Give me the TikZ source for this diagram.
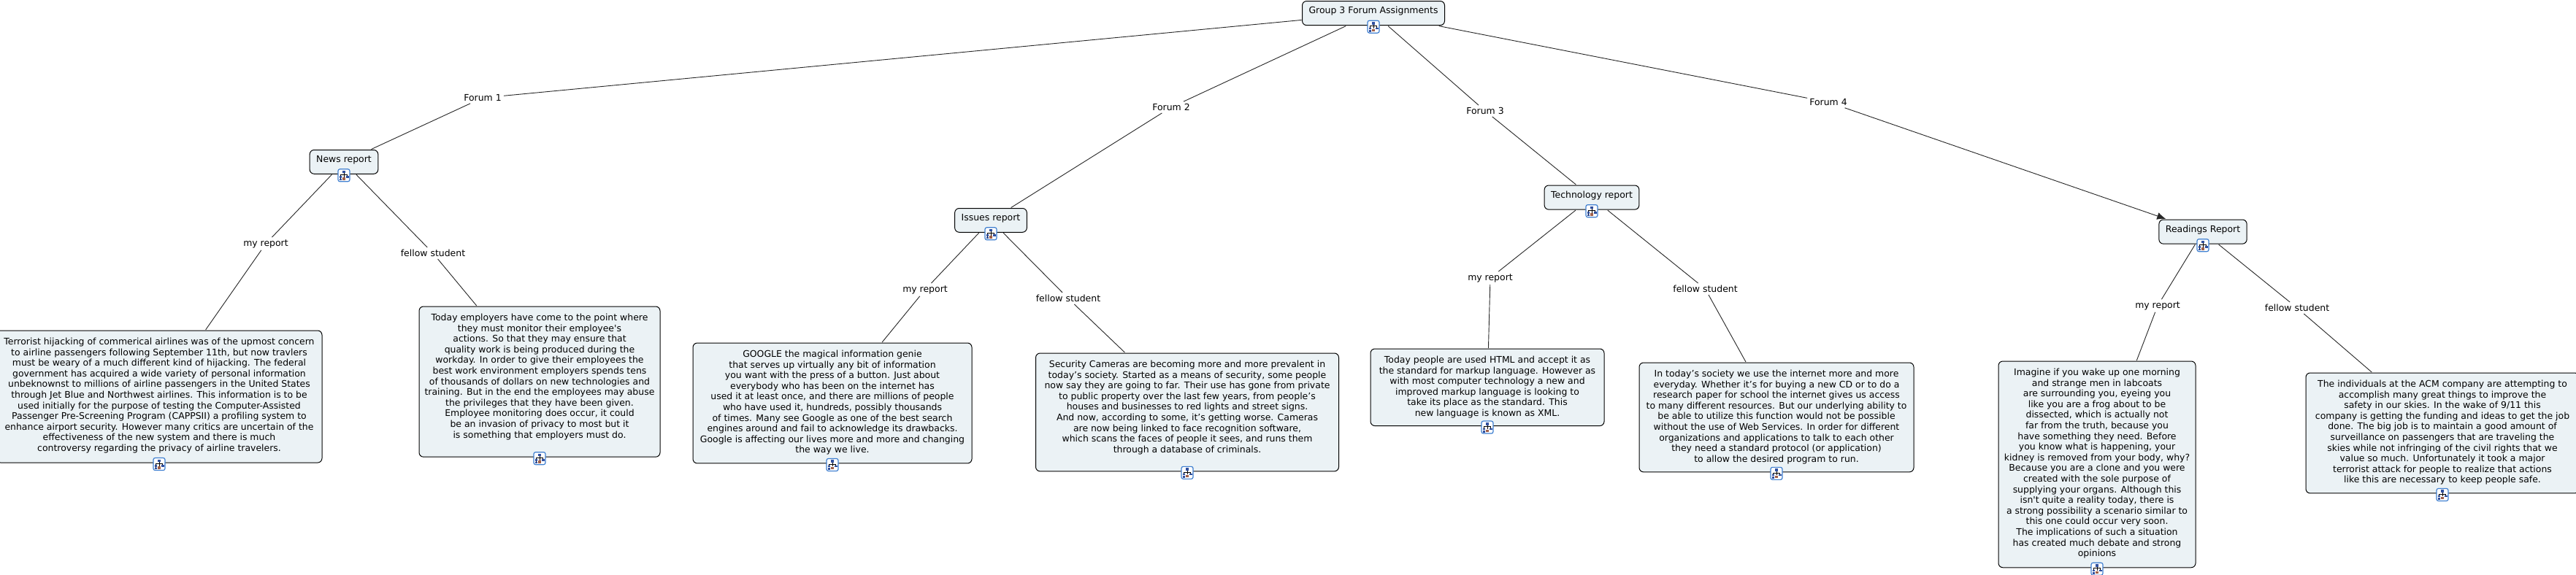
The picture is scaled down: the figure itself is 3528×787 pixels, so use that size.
\documentclass[tikz,border=0pt]{standalone}
\usepackage{fontspec}
\usetikzlibrary{arrows.meta}
\newfontfamily\mapfont{DejaVu Sans}
\definecolor{boxfill}{HTML}{EBF2F5}
\definecolor{iconblue}{HTML}{3F7FD0}
\definecolor{iconnode}{HTML}{2F4F9F}
\definecolor{iconbrown}{HTML}{A0604A}

\begin{document}
\begin{tikzpicture}[
    x=1pt, y=-1pt,
    every node/.style={font=\mapfont\fontsize{12.45}{14.6}\selectfont, align=center, text=black},
    conceptbox/.style={anchor=north, draw, fill=boxfill, rounded corners=6pt, line width=1pt,
        inner xsep=9pt, inner ysep=8pt, text depth=7.7pt, outer sep=1pt},
    reportbox/.style 2 args={anchor=north, draw, fill=boxfill, rounded corners=6pt, line width=1pt,
        inner ysep=10pt, minimum width=#1pt, text depth=#2pt, outer sep=1pt},
    linklabel/.style={inner xsep=3pt, inner ysep=3pt},
    link/.style={line width=0.9pt, black!85},
    pics/mapicon/.style={code={
        \draw[iconblue, line width=1.2pt, fill=white, rounded corners=2.5pt] (-8,-8.5) rectangle (8,8.5);
        \draw[black, line width=0.7pt] (0,-3) -- (0,-1) (-4.5,1) -- (-4.5,-1) -- (4.5,-1) -- (4.5,1) (-4.5,4) -- (-4.5,6) (0,-1) -- (0,2.5);
        \fill[iconnode] (-2.2,-6.5) rectangle (2.2,-3);
        \fill[iconnode] (-6.5,1) rectangle (-2.8,3.5);
        \fill[iconnode] (2.8,1) rectangle (6.5,3.5);
        \fill[iconnode] (-6.5,4.5) rectangle (-2.8,7);
        \fill[iconbrown] (-1.8,3) rectangle (1.8,6.5);
    }}
]
\useasboundingbox (0,0) rectangle (3528,787);

% === Root and forum labels ===
\node[conceptbox] (root) at (1881,0.5) {Group 3 Forum Assignments};
\node[linklabel] (f1) at (661,134) {Forum 1};
\node[linklabel] (f2) at (1604,147) {Forum 2};
\node[linklabel] (f3) at (2034,152) {Forum 3};
\node[linklabel] (f4) at (2504,140) {Forum 4};

% === Report titles ===
\node[conceptbox] (news) at (471,204.5) {News report};
\node[conceptbox] (issues) at (1357,284.5) {Issues report};
\node[conceptbox] (tech) at (2180,253) {Technology report};
\node[conceptbox] (read) at (3017,300) {Readings Report};

% === News report ===
\node[linklabel] (newsmy) at (364,334) {my report};
\node[linklabel] (newsfs) at (593,347) {fellow student};
\node[reportbox={446}{5.6}] (terror) at (218,452) {Terrorist hijacking of commerical airlines was of the upmost concern\\
to airline passengers following September 11th, but now travlers\\
must be weary of a much different kind of hijacking. The federal\\
government has acquired a wide variety of personal information\\
unbeknownst to millions of airline passengers in the United States\\
through Jet Blue and Northwest airlines. This information is to be\\
used initially for the purpose of testing the Computer-Assisted\\
Passenger Pre-Screening Program (CAPPSII) a profiling system to\\
enhance airport security. However many critics are uncertain of the\\
effectiveness of the new system and there is much\\
controversy regarding the privacy of airline travelers.};
\node[reportbox={330}{16.1}] (employers) at (739,419) {Today employers have come to the point where\\
they must monitor their employee's\\
actions. So that they may ensure that\\
quality work is being produced during the\\
workday. In order to give their employees the\\
best work environment employers spends tens\\
of thousands of dollars on new technologies and\\
training. But in the end the employees may abuse\\
the privileges that they have been given.\\
Employee monitoring does occur, it could\\
be an invasion of privacy to most but it\\
is something that employers must do.};

% === Issues report ===
\node[linklabel] (issuesmy) at (1267,397) {my report};
\node[linklabel] (issuesfs) at (1463,409) {fellow student};
\node[reportbox={382}{4.1}] (google) at (1140,469) {GOOGLE the magical information genie\\
that serves up virtually any bit of information\\
you want with the press of a button. Just about\\
everybody who has been on the internet has\\
used it at least once, and there are millions of people\\
who have used it, hundreds, possibly thousands\\
of times. Many see Google as one of the best search\\
engines around and fail to acknowledge its drawbacks.\\
Google is affecting our lives more and more and changing\\
the way we live.};
\node[reportbox={415}{15.6}] (cameras) at (1626,483) {Security Cameras are becoming more and more prevalent in\\
today’s society. Started as a means of security, some people\\
now say they are going to far. Their use has gone from private\\
to public property over the last few years, from people’s\\
houses and businesses to red lights and street signs.\\
And now, according to some, it’s getting worse. Cameras\\
are now being linked to face recognition software,\\
which scans the faces of people it sees, and runs them\\
through a database of criminals.};

% === Technology report ===
\node[linklabel] (techmy) at (2041,381) {my report};
\node[linklabel] (techfs) at (2335.5,396) {fellow student};
\node[reportbox={320}{3.1}] (html) at (2037,477) {Today people are used HTML and accept it as\\
the standard for markup language. However as\\
with most computer technology a new and\\
improved markup language is looking to\\
take its place as the standard. This\\
new language is known as XML.};
\node[reportbox={376}{3.6}] (webserv) at (2433,496) {In today’s society we use the internet more and more\\
everyday. Whether it’s for buying a new CD or to do a\\
research paper for school the internet gives us access\\
to many different resources. But our underlying ability to\\
be able to utilize this function would not be possible\\
without the use of Web Services. In order for different\\
organizations and applications to talk to each other\\
they need a standard protocol (or application)\\
to allow the desired program to run.};

% === Readings report ===
\node[linklabel] (readmy) at (2955,419) {my report};
\node[linklabel] (readfs) at (3146,422) {fellow student};
\node[reportbox={270}{5.1}] (imagine) at (2872,494) {Imagine if you wake up one morning\\
and strange men in labcoats\\
are surrounding you, eyeing you\\
like you are a frog about to be\\
dissected, which is actually not\\
far from the truth, because you\\
have something they need. Before\\
you know what is happening, your\\
kidney is removed from your body, why?\\
Because you are a clone and you were\\
created with the sole purpose of\\
supplying your organs. Although this\\
isn't quite a reality today, there is\\
a strong possibility a scenario similar to\\
this one could occur very soon.\\
The implications of such a situation\\
has created much debate and strong\\
opinions};
\node[reportbox={374}{4.1}] (acm) at (3345,510) {The individuals at the ACM company are attempting to\\
accomplish many great things to improve the\\
safety in our skies. In the wake of 9/11 this\\
company is getting the funding and ideas to get the job\\
done. The big job is to maintain a good amount of\\
surveillance on passengers that are traveling the\\
skies while not infringing of the civil rights that we\\
value so much. Unfortunately it took a major\\
terrorist attack for people to realize that actions\\
like this are necessary to keep people safe.};

% === Connectors ===
\draw[link] (root) -- (f1) -- (news);
\draw[link] (root) -- (f2) -- (issues);
\draw[link] (root) -- (f3) -- (tech);
\draw[link] (root) -- (f4);
\draw[link, -{Latex[length=12pt,width=10pt]}] (f4) -- (read);
\draw[link] (news) -- (newsmy) -- (terror);
\draw[link] (news) -- (newsfs) -- (employers);
\draw[link] (issues) -- (issuesmy) -- (google);
\draw[link] (issues) -- (issuesfs) -- (cameras);
\draw[link] (tech) -- (techmy) -- (html);
\draw[link] (tech) -- (techfs) -- (webserv);
\draw[link] (read) -- (readmy) -- (imagine);
\draw[link] (read) -- (readfs) -- (acm);

% === Icons under every box ===
\foreach \boxname in {root,news,issues,tech,read,terror,employers,google,cameras,html,webserv,imagine,acm}
    \pic at ([yshift=-1pt]\boxname.south) {mapicon};

\end{tikzpicture}
\end{document}
